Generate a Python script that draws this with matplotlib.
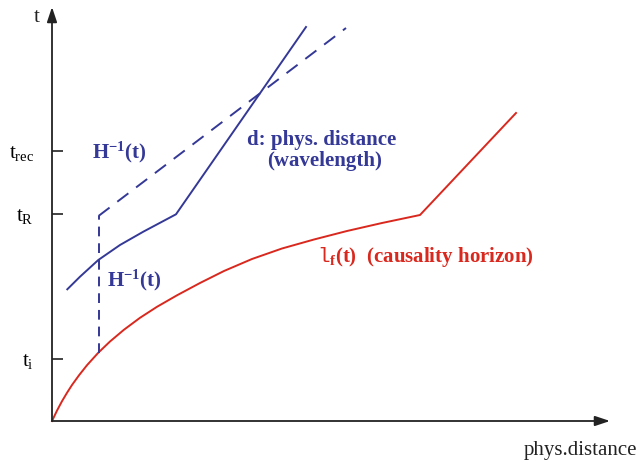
import matplotlib
matplotlib.use('Agg')
import matplotlib.pyplot as plt

plt.rcParams['font.family'] = ['Liberation Serif', 'DejaVu Serif']
plt.rcParams['mathtext.fontset'] = 'custom'
plt.rcParams['mathtext.rm'] = 'Liberation Serif'
plt.rcParams['mathtext.it'] = 'Liberation Serif:italic'
plt.rcParams['mathtext.bf'] = 'Liberation Serif:bold'
plt.rcParams['mathtext.tt'] = 'Liberation Mono'
plt.rcParams['lines.scale_dashes'] = False

BLUE = '#343896'
RED = '#d9281e'
AXIS = '#222222'

# causality horizon l_f(t)
red_x = [0, 5, 10, 15, 20, 27, 35, 46.3, 58, 72, 88, 105, 125, 148, 172, 200, 230, 262, 295, 330, 368, 464]
red_t = [0, 10.4, 19.8, 28.2, 36, 45.7, 55.8, 68.3, 79.5, 91.3, 103.2, 114.2, 125.7, 138, 150, 162,
         172.5, 181.5, 190, 198, 206, 308]

# physical distance (wavelength)
blue_x = [15.3, 28, 46.3, 68, 91.3, 124, 254]
blue_t = [131.7, 144.3, 161, 176, 189.3, 206.7, 394]

# Hubble radius H^-1(t), dashed
hub_vert_x = [46.5, 46.5]
hub_vert_t = [68.3, 205]
hub_diag_x = [46.5, 294]
hub_diag_t = [205, 393]

tick_t = [62, 207, 270]
tick_labels = [r'$\mathrm{t}_{\mathrm{i}}$', r'$\mathrm{t}_{\mathrm{R}}$', r'$\mathrm{t}_{\mathrm{rec}}$']

fig = plt.figure(figsize=(6.38, 4.62), dpi=100)
ax = fig.add_axes([52 / 638, 41 / 462, 558 / 638, 414 / 462])
ax.set_xlim(0, 558)
ax.set_ylim(0, 414)
for s in ax.spines.values():
    s.set_visible(False)

# axes with arrows
arrow = dict(arrowstyle='-|>,head_length=0.6,head_width=0.2', mutation_scale=15,
             color=AXIS, lw=1.3, shrinkA=0, shrinkB=0)
ax.annotate('', xy=(1, 0), xytext=(0, 0), xycoords='axes fraction', arrowprops=arrow)
ax.annotate('', xy=(0, 1), xytext=(0, 0), xycoords='axes fraction', arrowprops=arrow)

ax.set_xticks([])
ax.set_yticks(tick_t)
ax.set_yticklabels(tick_labels, fontsize=15)
ax.tick_params(axis='y', direction='in', length=8, width=1.2, color=AXIS, pad=13)

ax.plot(red_x, red_t, color=RED, lw=1.4, clip_on=False)
ax.plot(blue_x, blue_t, color=BLUE, lw=1.4, clip_on=False)
ax.plot(hub_vert_x, hub_vert_t, color=BLUE, lw=1.4, dashes=(7, 5))
ax.plot(hub_diag_x, hub_diag_t, color=BLUE, lw=1.4, dashes=(10, 7))

ax.text(-15, 404, 't', fontsize=15, ha='center', va='center', color=AXIS)
ax.text(472, -34, 'phys.distance', fontsize=15, ha='left', va='baseline', color=AXIS)

ax.text(39.7, 263, r'H$^{\mathbf{-1}}$(t)', fontsize=15, fontweight='bold', color=BLUE, va='baseline')
ax.text(54.7, 135, r'H$^{\mathbf{-1}}$(t)', fontsize=15, fontweight='bold', color=BLUE, va='baseline')
ax.text(270, 276, 'd: phys. distance', fontsize=15, fontweight='bold', color=BLUE,
        ha='center', va='baseline')
ax.text(273, 255, '(wavelength)', fontsize=15, fontweight='bold', color=BLUE,
        ha='center', va='baseline')
ax.text(265, 159, r'$\mathtt{l}_{\mathbf{f}}$(t)  (causality horizon)', fontsize=15,
        fontweight='bold', color=RED, va='baseline')

fig.savefig('out.png', dpi=100)
